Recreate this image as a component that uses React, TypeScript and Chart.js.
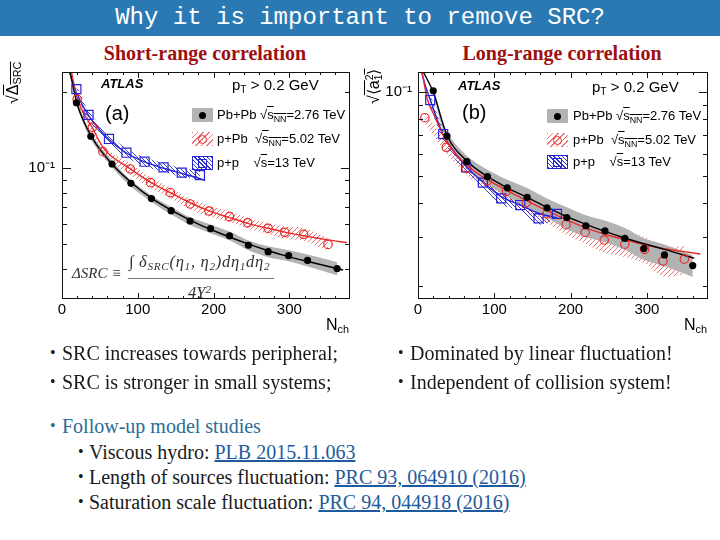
import React, { useEffect, useRef } from 'react';
import { Chart, registerables } from 'chart.js';

Chart.register(...registerables);

// ===== Panel (a): short-range correlation, sqrt(ΔSRC) vs Nch =====
const nchPbPbA = [19, 38, 66, 91, 118, 144, 169, 196, 221, 246, 272, 299, 324, 363];
const srcPbPb = [0.182, 0.134, 0.104, 0.0872, 0.0758, 0.0679, 0.0618, 0.0576, 0.054, 0.0495, 0.0467, 0.045, 0.0431, 0.04];
const sysPbPbA = [0.03, 0.03, 0.03, 0.03, 0.03, 0.035, 0.035, 0.04, 0.04, 0.045, 0.05, 0.05, 0.055, 0.06];
const nchPPbA = [20, 40, 54, 90, 117, 143, 169, 194, 221, 245, 272, 294, 319, 351];
const srcPPb = [0.188, 0.1455, 0.1164, 0.0994, 0.0877, 0.08, 0.0722, 0.0677, 0.0643, 0.0608, 0.0578, 0.0557, 0.0547, 0.0499];
const sysPPbA = [0.05, 0.05, 0.05, 0.05, 0.05, 0.05, 0.05, 0.05, 0.05, 0.05, 0.05, 0.055, 0.06, 0.06];
const nchPPA = [19, 35, 62, 85, 109, 134, 158, 182];
const srcPP = [0.206, 0.163, 0.1307, 0.1153, 0.1062, 0.1009, 0.0961, 0.094];
const sysPPA = [0.04, 0.04, 0.04, 0.04, 0.04, 0.04, 0.04, 0.04];

const fitXPbPbA = [10, 20, 40, 66, 92, 120, 150, 180, 210, 240, 270, 300, 330, 371];
const fitYPbPbA = [0.245, 0.18, 0.132, 0.104, 0.0875, 0.0755, 0.0667, 0.06, 0.055, 0.0508, 0.0473, 0.0445, 0.0423, 0.0395];
const fitXPPbA = [12, 20, 40, 55, 90, 117, 143, 169, 194, 221, 245, 272, 294, 319, 351, 376];
const fitYPPbA = [0.245, 0.19, 0.145, 0.12, 0.0995, 0.088, 0.08, 0.073, 0.0678, 0.0637, 0.0605, 0.0578, 0.0558, 0.054, 0.052, 0.0507];
const fitXPPA = [9, 19, 35, 62, 85, 109, 134, 158, 182, 189];
const fitYPPA = [0.245, 0.2, 0.162, 0.13, 0.115, 0.106, 0.1, 0.0955, 0.091, 0.0895];

// ===== Panel (b): long-range correlation, sqrt(<a1^2>) vs Nch =====
const nchPbPbB = [20, 38, 64, 91, 117, 143, 169, 195, 220, 245, 271, 296, 323, 360];
const a1PbPb = [0.1013, 0.0695, 0.0562, 0.0496, 0.0452, 0.0418, 0.0383, 0.0353, 0.033, 0.0316, 0.0297, 0.0273, 0.0259, 0.0237];
const sysPbPbB = [0.03, 0.04, 0.05, 0.06, 0.07, 0.08, 0.08, 0.09, 0.09, 0.09, 0.09, 0.09, 0.09, 0.09];
const nchPPbB = [9, 37, 63, 91, 116, 142, 169, 194, 219, 244, 271, 297, 321, 349];
const a1PPb = [0.081, 0.0633, 0.0532, 0.048, 0.044, 0.04, 0.0364, 0.0333, 0.0312, 0.0293, 0.0283, 0.0271, 0.0246, 0.025];
const sysPPbB = [0.05, 0.05, 0.05, 0.06, 0.06, 0.07, 0.07, 0.08, 0.09, 0.1, 0.1, 0.11, 0.12, 0.12];
const nchPPB = [16, 33, 63, 85, 109, 134, 158, 182];
const a1PP = [0.0938, 0.0707, 0.0536, 0.0472, 0.0414, 0.0392, 0.0351, 0.0364];
const sysPPB = [0.05, 0.05, 0.05, 0.05, 0.05, 0.05, 0.05, 0.05];

const fitXPbPbB = [6, 20, 38, 64, 91, 117, 143, 169, 195, 220, 245, 271, 296, 323, 362];
const fitYPbPbB = [0.12, 0.1, 0.07, 0.0565, 0.0497, 0.0452, 0.0418, 0.0385, 0.0356, 0.0334, 0.0315, 0.0298, 0.0284, 0.0271, 0.0252];
const fitXPPbB = [5, 12, 20, 38, 64, 91, 117, 143, 169, 194, 219, 244, 271, 297, 321, 349, 370];
const fitYPPbB = [0.12, 0.095, 0.084, 0.066, 0.0545, 0.0484, 0.0442, 0.0406, 0.0374, 0.0347, 0.0325, 0.0308, 0.0294, 0.0282, 0.0273, 0.0266, 0.0261];
const fitXPPB = [4, 10, 16, 33, 63, 85, 109, 134, 158, 182];
const fitYPPB = [0.12, 0.105, 0.094, 0.0705, 0.054, 0.0475, 0.042, 0.0392, 0.0366, 0.0352];

// ===== Axes =====
const xMax = 380;
const xMajorTicks = [0, 100, 200, 300];
const xMinorTicks = [20, 40, 60, 80, 120, 140, 160, 180, 220, 240, 260, 280, 320, 340, 360];
const yRangeA = [0.0303, 0.241];
const yRangeB = [0.01795, 0.1184];
const yLabelTicks = [0.1];
const yMinorTicksA = [0.04, 0.05, 0.06, 0.07, 0.08, 0.09, 0.2];
const yMinorTicksB = [0.02, 0.03, 0.04, 0.05, 0.06, 0.07, 0.08, 0.09];

const RED = '#e62b2b';
const BLUE = '#2424d6';
const SANS = '"Liberation Sans", Arial, Helvetica, sans-serif';
const SERIF = '"Liberation Serif", "Times New Roman", serif';

const pts = (xs: number[], ys: number[]) => xs.map((x, i) => ({ x, y: ys[i] }));
const bandPts = (xs: number[], ys: number[], e: number[], s: number) =>
  xs.map((x, i) => ({ x, y: ys[i] * (1 + s * e[i]) }));

function makeHatch(color: string, dir: number, step: number) {
  const c = document.createElement('canvas');
  c.width = step;
  c.height = step;
  const g = c.getContext('2d')!;
  g.strokeStyle = color;
  g.lineWidth = 1;
  g.beginPath();
  if (dir > 0) {
    g.moveTo(0, step); g.lineTo(step, 0);
    g.moveTo(-1, 1); g.lineTo(1, -1);
    g.moveTo(step - 1, step + 1); g.lineTo(step + 1, step - 1);
  } else {
    g.moveTo(0, 0); g.lineTo(step, step);
    g.moveTo(step - 1, -1); g.lineTo(step + 1, 1);
    g.moveTo(-1, step - 1); g.lineTo(1, step + 1);
  }
  g.stroke();
  return g.createPattern(c, 'repeat');
}

const frameTicks = {
  id: 'frameTicks',
  afterDatasetsDraw(chart: any, _a: any, opts: any) {
    const { ctx, chartArea: a, scales } = chart;
    const x = scales.x, y = scales.y;
    ctx.save();
    ctx.strokeStyle = '#111';
    ctx.lineWidth = 1;
    ctx.beginPath();
    const line = (x1: number, y1: number, x2: number, y2: number) => { ctx.moveTo(x1, y1); ctx.lineTo(x2, y2); };
    const xt = (v: number, len: number) => {
      const p = Math.round(x.getPixelForValue(v)) + 0.5;
      line(p, a.bottom, p, a.bottom - len);
      line(p, a.top, p, a.top + len);
    };
    const yt = (v: number, len: number) => {
      const p = Math.round(y.getPixelForValue(v)) + 0.5;
      line(a.left, p, a.left + len, p);
      line(a.right, p, a.right - len, p);
    };
    opts.xMajor.forEach((v: number) => xt(v, 6));
    opts.xMinor.forEach((v: number) => xt(v, 3));
    opts.yMajor.forEach((v: number) => yt(v, 9));
    opts.yMinor.forEach((v: number) => yt(v, 5));
    ctx.stroke();
    ctx.strokeRect(Math.round(a.left) + 0.5, Math.round(a.top) + 0.5, Math.round(a.width) - 1, Math.round(a.height) - 1);
    ctx.restore();
  },
};

function buildChart(canvas: HTMLCanvasElement, p: any) {
  const datasets: any[] = [];
  p.series.forEach((s: any, k: number) => {
    datasets.push({
      type: 'line', data: bandPts(s.x, s.y, s.sys, 1), borderWidth: 0, pointRadius: 0,
      backgroundColor: s.band, fill: '+1', tension: 0.3, showLine: true, order: 5 + k,
    });
    datasets.push({
      type: 'line', data: bandPts(s.x, s.y, s.sys, -1), borderWidth: 0, pointRadius: 0,
      fill: false, tension: 0.3, showLine: true, order: 5 + k,
    });
  });
  p.series.forEach((s: any) => {
    datasets.push({
      type: 'line', data: pts(s.fx, s.fy), borderColor: s.color, borderWidth: 1.4, pointRadius: 0,
      fill: false, cubicInterpolationMode: 'monotone', showLine: true, order: 2,
    });
  });
  p.series.forEach((s: any) => {
    datasets.push({
      type: 'scatter', data: pts(s.x, s.y), pointStyle: s.style, pointRadius: s.radius,
      backgroundColor: s.filled ? s.color : 'rgba(0,0,0,0)', borderColor: s.color,
      borderWidth: s.filled ? 0 : 1.2, order: 0,
    });
  });
  return new Chart(canvas, {
    type: 'scatter',
    data: { datasets },
    plugins: [frameTicks],
    options: {
      animation: false,
      responsive: false,
      events: [],
      layout: { padding: { left: 0, right: p.padRight, top: 32, bottom: 0 } },
      plugins: {
        legend: { display: false },
        tooltip: { enabled: false },
        frameTicks: { xMajor: xMajorTicks, xMinor: xMinorTicks, yMajor: yLabelTicks, yMinor: p.yMinor },
      } as any,
      scales: {
        x: {
          type: 'linear', min: 0, max: xMax,
          afterBuildTicks: (sc: any) => { sc.ticks = xMajorTicks.map((v) => ({ value: v })); },
          afterFit: (sc: any) => { sc.height = 41; },
          ticks: { color: '#000', font: { family: SANS, size: 15 }, padding: 2, maxRotation: 0, autoSkip: false, callback: (v: any) => String(v) },
          grid: { display: false, drawTicks: false },
          border: { display: false },
        },
        y: {
          type: 'logarithmic', min: p.yRange[0], max: p.yRange[1],
          afterBuildTicks: (sc: any) => { sc.ticks = yLabelTicks.map((v) => ({ value: v })); },
          afterFit: (sc: any) => { sc.width = p.yWidth; },
          ticks: { color: '#000', font: { family: SANS, size: 15 }, padding: p.yPad, autoSkip: false, callback: (v: any) => (Math.abs(v - 0.1) < 1e-9 ? '10⁻¹' : '') },
          grid: { display: false, drawTicks: false },
          border: { display: false },
        },
      },
    } as any,
  });
}

const abs = (l: number, t: number, extra: any = {}) => ({ position: 'absolute' as const, left: l, top: t, whiteSpace: 'nowrap' as const, ...extra });
const Sub = ({ children }: any) => <span style={{ fontSize: '0.68em', verticalAlign: '-0.3em' }}>{children}</span>;
const Sup = ({ children }: any) => <span style={{ fontSize: '0.68em', verticalAlign: '0.45em' }}>{children}</span>;

const redHatchCss = `repeating-linear-gradient(-45deg, rgba(235,90,90,0.85) 0 1px, rgba(255,255,255,0) 1px 4px)`;
const blueHatchCss = `repeating-linear-gradient(45deg, rgba(40,40,210,0.95) 0 1px, rgba(255,255,255,0) 1px 3px)`;

function Legend({ left, textLeft, rows }: { left: number; textLeft: number; rows: number[] }) {
  const font = { fontFamily: SANS, fontSize: 13, lineHeight: '16px', color: '#000' };
  const sq = (inner: any) => <span style={{ textDecoration: 'overline' }}>{inner}</span>;
  return (
    <>
      <div style={abs(left, rows[0] - 7, { width: 21, height: 14, background: '#b3b3b3' })} />
      <div style={abs(left + 7, rows[0] - 3.5, { width: 7, height: 7, borderRadius: '50%', background: '#000' })} />
      <div style={abs(textLeft, rows[0] - 8, font)}>Pb+Pb √{sq(<>s<Sub>NN</Sub></>)}=2.76 TeV</div>

      <div style={abs(left, rows[1] - 7, { width: 21, height: 14, background: redHatchCss })} />
      <div style={abs(left + 6, rows[1] - 4.5, { width: 7, height: 7, borderRadius: '50%', border: `1.2px solid ${RED}` })} />
      <div style={abs(textLeft, rows[1] - 8, font)}>p+Pb&nbsp; √{sq(<>s<Sub>NN</Sub></>)}=5.02 TeV</div>

      <div style={abs(left, rows[2] - 7, { width: 21, height: 14, background: blueHatchCss, boxSizing: 'border-box', border: `1px solid ${BLUE}` })} />
      <div style={abs(left + 5.5, rows[2] - 4.5, { width: 9, height: 9, boxSizing: 'border-box', border: `1.2px solid ${BLUE}` })} />
      <div style={abs(textLeft, rows[2] - 8, font)}>p+p&nbsp;&nbsp;&nbsp; √{sq('s')}=13 TeV</div>
    </>
  );
}

export default function App() {
  const refA = useRef<HTMLCanvasElement>(null);
  const refB = useRef<HTMLCanvasElement>(null);

  useEffect(() => {
    const redHatch = makeHatch('rgba(235,80,80,0.8)', 1, 5);
    const blueHatch = makeHatch('rgba(40,40,210,0.9)', -1, 4);
    const grey = '#b3b3b3';
    const chartA = buildChart(refA.current!, {
      yRange: yRangeA, yMinor: yMinorTicksA, yWidth: 62, yPad: 7, padRight: 10,
      series: [
        { x: nchPbPbA, y: srcPbPb, sys: sysPbPbA, fx: fitXPbPbA, fy: fitYPbPbA, color: '#000', band: grey, style: 'circle', radius: 3.6, filled: true },
        { x: nchPPbA, y: srcPPb, sys: sysPPbA, fx: fitXPPbA, fy: fitYPPbA, color: RED, band: redHatch, style: 'circle', radius: 4.2, filled: false },
        { x: nchPPA, y: srcPP, sys: sysPPA, fx: fitXPPA, fy: fitYPPA, color: BLUE, band: blueHatch, style: 'rect', radius: 6.4, filled: false },
      ],
    });
    const chartB = buildChart(refB.current!, {
      yRange: yRangeB, yMinor: yMinorTicksB, yWidth: 58, yPad: 6, padRight: 12,
      series: [
        { x: nchPbPbB, y: a1PbPb, sys: sysPbPbB, fx: fitXPbPbB, fy: fitYPbPbB, color: '#000', band: grey, style: 'circle', radius: 3.6, filled: true },
        { x: nchPPbB, y: a1PPb, sys: sysPPbB, fx: fitXPPbB, fy: fitYPPbB, color: RED, band: redHatch, style: 'circle', radius: 4.2, filled: false },
        { x: nchPPB, y: a1PP, sys: sysPPB, fx: fitXPPB, fy: fitYPPB, color: BLUE, band: blueHatch, style: 'rect', radius: 6.4, filled: false },
      ],
    });
    return () => { chartA.destroy(); chartB.destroy(); };
  }, []);

  const body = { fontFamily: SERIF, fontSize: 20, lineHeight: '24px', color: '#1a1a1a' };
  const link = { color: '#1d5b9e', textDecoration: 'underline' };
  const bullet = (l: number, cy: number, color = '#1a1a1a') => (
    <div style={abs(l, cy - 12, { fontFamily: SERIF, fontSize: 16, lineHeight: '24px', color })}>•</div>
  );
  const math = { fontFamily: SERIF, fontStyle: 'italic', fontSize: 16.5, lineHeight: '20px', color: '#333' };

  return (
    <div style={{ position: 'absolute', left: 0, top: 0, width: 720, height: 540, overflow: 'hidden', background: '#fff' }}>
      {/* title bar */}
      <div style={abs(0, 0, { width: 720, height: 36, background: '#2a79b3' })} />
      <div style={abs(0, 4, { width: 720, textAlign: 'center', fontFamily: '"Liberation Mono", "Courier New", monospace', fontSize: 24, lineHeight: '28px', color: '#fff' })}>
        Why it is important to remove SRC?
      </div>
      <div style={abs(0, 41, { width: 410, textAlign: 'center', fontFamily: SERIF, fontWeight: 'bold', fontSize: 20, lineHeight: '24px', color: '#9e1010' })}>Short-range correlation</div>
      <div style={abs(360, 41, { width: 404, textAlign: 'center', fontFamily: SERIF, fontWeight: 'bold', fontSize: 20, lineHeight: '24px', color: '#9e1010' })}>Long-range correlation</div>

      <canvas ref={refA} width={360} height={300} style={abs(0, 40, { width: 360, height: 300 })} />
      <canvas ref={refB} width={360} height={300} style={abs(360, 40, { width: 360, height: 300 })} />

      {/* panel (a) annotations */}
      <div style={abs(4, 104, { transform: 'rotate(-90deg)', transformOrigin: 'left top', fontFamily: SANS, fontSize: 16, lineHeight: '18px' })}>
        √<span style={{ textDecoration: 'overline' }}>Δ<Sub>SRC</Sub></span>
      </div>
      <div style={abs(101, 76, { fontFamily: SANS, fontWeight: 'bold', fontStyle: 'italic', fontSize: 13, lineHeight: '16px' })}>ATLAS</div>
      <div style={abs(232, 76, { fontFamily: SANS, fontSize: 15, lineHeight: '18px' })}>p<Sub>T</Sub> &gt; 0.2 GeV</div>
      <div style={abs(105, 101, { fontFamily: SANS, fontSize: 20, lineHeight: '24px' })}>(a)</div>
      <Legend left={192} textLeft={217} rows={[115, 139, 163]} />
      <div style={abs(72, 263, { ...math, fontSize: 15 })}>ΔSRC ≡</div>
      <div style={abs(129, 252, { ...math, letterSpacing: '0.7px' })}>∫ δ<Sub>SRC</Sub>(η<Sub>1</Sub>, η<Sub>2</Sub>)dη<Sub>1</Sub>dη<Sub>2</Sub></div>
      <div style={abs(128, 278, { width: 146, height: 1, background: '#777' })} />
      <div style={abs(188, 279, math)}>4Y<Sup>2</Sup></div>
      <div style={abs(326, 316, { fontFamily: SANS, fontSize: 16, lineHeight: '18px' })}>N<Sub>ch</Sub></div>

      {/* panel (b) annotations */}
      <div style={abs(365, 104, { transform: 'rotate(-90deg)', transformOrigin: 'left top', fontFamily: SANS, fontSize: 16, lineHeight: '18px' })}>
        √<span style={{ textDecoration: 'overline' }}>⟨a<span style={{ display: 'inline-block', fontSize: '0.65em', lineHeight: '0.8em', verticalAlign: '-0.25em', textAlign: 'left' }}>2<br />1</span>⟩</span>
      </div>
      <div style={abs(458, 78, { fontFamily: SANS, fontWeight: 'bold', fontStyle: 'italic', fontSize: 13, lineHeight: '16px' })}>ATLAS</div>
      <div style={abs(592, 78, { fontFamily: SANS, fontSize: 15, lineHeight: '18px' })}>p<Sub>T</Sub> &gt; 0.2 GeV</div>
      <div style={abs(462, 100, { fontFamily: SANS, fontSize: 20, lineHeight: '24px' })}>(b)</div>
      <Legend left={547} textLeft={573} rows={[116, 140, 162]} />
      <div style={abs(684, 316, { fontFamily: SANS, fontSize: 16, lineHeight: '18px' })}>N<Sub>ch</Sub></div>

      {/* slide text */}
      {bullet(50, 353)}
      <div style={abs(62, 341, body)}>SRC increases towards peripheral;</div>
      {bullet(50, 382)}
      <div style={abs(62, 370, body)}>SRC is stronger in small systems;</div>
      {bullet(398, 353)}
      <div style={abs(410, 341, body)}>Dominated by linear fluctuation!</div>
      {bullet(398, 382)}
      <div style={abs(410, 370, body)}>Independent of collision system!</div>

      {bullet(50, 426, '#2b6c95')}
      <div style={abs(62, 414, { ...body, color: '#2b6c95' })}>Follow-up model studies</div>
      {bullet(78, 452)}
      <div style={abs(89, 440, body)}>Viscous hydro: <span style={link}>PLB 2015.11.063</span></div>
      {bullet(78, 477)}
      <div style={abs(89, 465, body)}>Length of sources fluctuation: <span style={link}>PRC 93, 064910 (2016)</span></div>
      {bullet(78, 502)}
      <div style={abs(89, 490, body)}>Saturation scale fluctuation: <span style={link}>PRC 94, 044918 (2016)</span></div>
    </div>
  );
}
